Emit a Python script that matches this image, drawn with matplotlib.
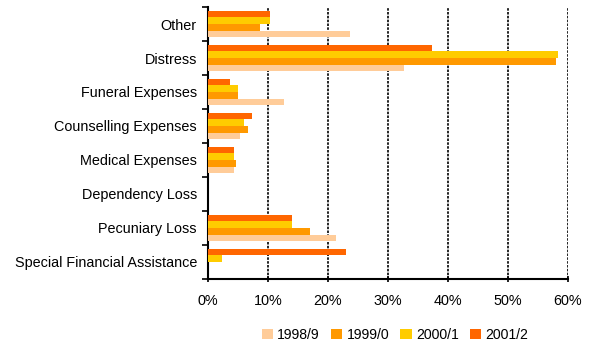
import matplotlib.pyplot as plt
import numpy as np

categories = ['Other', 'Distress', 'Funeral Expenses', 'Counselling Expenses',
              'Medical Expenses', 'Dependency Loss', 'Pecuniary Loss',
              'Special Financial Assistance']
years = ['1998/9', '1999/0', '2000/1', '2001/2']
colors = ['#FFCC99', '#FF9900', '#FFCC00', '#FF6600']

# percent of total, per category (top to bottom)
v1998 = [23.7, 32.7, 12.7, 5.4, 4.4, 0.0, 21.4, 0.0]
v1999 = [8.7, 58.0, 5.0, 6.7, 4.7, 0.0, 17.0, 0.0]
v2000 = [10.4, 58.4, 5.0, 6.0, 4.4, 0.0, 14.0, 2.4]
v2001 = [10.4, 37.4, 3.7, 7.4, 4.4, 0.0, 14.0, 23.0]
series = [v1998, v1999, v2000, v2001]

plt.rcParams['font.family'] = ['Liberation Sans', 'DejaVu Sans']
fig = plt.figure(figsize=(5.91, 3.47), dpi=100)
ax = fig.add_axes([208 / 591, 1 - 279 / 347, 360 / 591, 272 / 347])

n = len(categories)
y = np.arange(n)[::-1]
h = 0.197
for i, vals in enumerate(series):
    ax.barh(y - 1.5 * h + i * h, vals, height=h, color=colors[i],
            label=years[i], zorder=3)

ax.set_xlim(0, 60)
ax.set_ylim(-0.5, n - 0.5)
ax.set_xticks(np.arange(0, 61, 10))
ax.set_xticklabels([f'{t}%' for t in range(0, 61, 10)], fontsize=10.4)
ax.set_yticks(y)
ax.set_yticklabels(categories, fontsize=10.4)
ax.set_yticks(np.arange(-0.5, n, 1), minor=True)
ax.tick_params(axis='y', which='major', length=0, pad=8)
ax.tick_params(axis='y', which='minor', length=4, width=1.2, direction='out')
ax.tick_params(axis='x', length=4, width=1.2, direction='inout', pad=9)

ax.grid(axis='x', color='black', linestyle=(0, (1.5, 0.8)), linewidth=1.2, zorder=0)
for s in ['top', 'right']:
    ax.spines[s].set_visible(False)
ax.spines['left'].set_linewidth(1.5)
ax.spines['bottom'].set_linewidth(1.5)

fig.legend(loc='center', bbox_to_anchor=(395 / 591, 1 - 335 / 347), ncol=4,
           frameon=False, fontsize=10.1, handlelength=0.8, handleheight=0.8,
           handletextpad=0.3, columnspacing=0.8)

fig.savefig('out.png', dpi=100)
